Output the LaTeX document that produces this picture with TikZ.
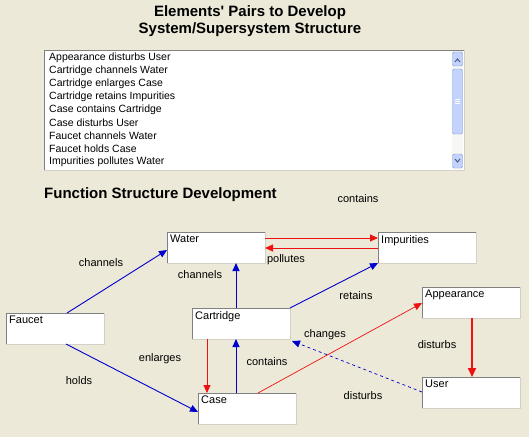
\documentclass[tikz,border=0pt]{standalone}
\usepackage{fontspec}
\setmainfont{Liberation Sans}
\usetikzlibrary{arrows.meta}
\definecolor{bg}{HTML}{ECE9D8}
\definecolor{edgegray}{HTML}{808080}
\definecolor{lightedge}{HTML}{D4D0C8}
\definecolor{arrblue}{HTML}{0000CC}
\definecolor{arrred}{HTML}{EE1111}
\definecolor{sbfill}{HTML}{C3D3FD}
\definecolor{sbedge}{HTML}{7C9FD3}
\definecolor{sbtrack}{HTML}{F7F7F4}
\begin{document}
\begin{tikzpicture}[x=1pt,y=-1pt,
  elem/.style={fill=white,draw=none,inner sep=0pt,outer sep=0pt,minimum width=98pt,minimum height=31pt},
  elemtext/.style={anchor=north west,inner sep=0pt,font=\fontsize{11}{13}\selectfont},
  lbl/.style={inner sep=0pt,font=\fontsize{11}{13}\selectfont},
  listtext/.style={anchor=west,inner sep=0pt,font=\fontsize{10.5}{13}\selectfont},
  tip/.style={-{Triangle[length=8pt,width=7pt]}},
  blueline/.style={draw=arrblue,line width=0.9pt,tip},
  redline/.style={draw=arrred,line width=0.9pt,tip},
  title/.style={inner sep=0pt,font=\bfseries\fontsize{15}{17}\selectfont}
]
\useasboundingbox (0,0) rectangle (529,437);
\fill[bg] (0,0) rectangle (529,437);

% titles
\node[title] (t1) at (250,13) {Elements\textquotesingle\ Pairs to Develop};
\node[title] (t2) at (250,30) {System/Supersystem Structure};

% list box
\fill[white] (44,50) rectangle (464,170);
\draw[edgegray,line width=1pt] (44,170) -- (44,50) -- (464,50);
\draw[lightedge,line width=1pt] (464,50) -- (464,170) -- (44,170);
\fill[sbtrack] (452,51) rectangle (463,169);
\fill[sbfill,draw=sbedge,rounded corners=1.5pt] (452.5,52) rectangle (462.5,66);
\fill[sbfill,draw=sbedge,rounded corners=1.5pt] (452.5,69) rectangle (462.5,134);
\fill[sbfill,draw=sbedge,rounded corners=1.5pt] (452.5,154) rectangle (462.5,168);
\draw[sbedge!60!black,line width=1pt] (455,62) -- (457.5,59) -- (460,62);
\draw[sbedge!60!black,line width=1pt] (455,159) -- (457.5,162) -- (460,159);
\foreach \yy in {99,101,103}{\draw[white,line width=0.5pt] (455,\yy) -- (460,\yy);}
\node[listtext] (l1) at (49,58) {Appearance disturbs User};
\node[listtext] (l2) at (49,71) {Cartridge channels Water};
\node[listtext] (l3) at (49,84) {Cartridge enlarges Case};
\node[listtext] (l4) at (49,97) {Cartridge retains Impurities};
\node[listtext] (l5) at (49,110) {Case contains Cartridge};
\node[listtext] (l6) at (49,123) {Case disturbs User};
\node[listtext] (l7) at (49,136) {Faucet channels Water};
\node[listtext] (l8) at (49,149) {Faucet holds Case};
\node[listtext] (l9) at (49,162) {Impurities pollutes Water};

\node[title,anchor=west] (t3) at (44,195) {Function Structure Development};

% element boxes
\newcommand{\elembox}[4]{%
  \node[elem,anchor=north west] (#1) at (#2,#3) {};
  \draw[edgegray,line width=1pt] (#1.south west) -- (#1.north west) -- (#1.north east);
  \draw[lightedge,line width=1pt] (#1.north east) -- (#1.south east) -- (#1.south west);
  \node[elemtext] (#1t) at ([shift={(3,3)}]#1.north west) {#4};}
\elembox{water}{167}{232}{Water}
\elembox{impur}{378}{232}{Impurities}
\elembox{faucet}{6}{313}{Faucet}
\elembox{cart}{192}{308}{Cartridge}
\elembox{case}{198}{393}{Case}
\elembox{appear}{422}{287}{Appearance}
\elembox{user}{422}{377}{User}

% connectors
\draw[blueline] ([xshift=61pt]faucet.north west) -- ([yshift=-18pt]water.north west);
\draw[blueline] ([xshift=60pt]faucet.south west) -- ([yshift=-19pt]case.north west);
\draw[blueline] ([xshift=44pt]cart.north west) -- ([xshift=69pt]water.south west);
\draw[blueline] ([xshift=38pt]case.north west) -- ([xshift=44pt]cart.south west);
\draw[redline] ([xshift=15pt]cart.south west) -- ([xshift=9pt]case.north west);
\draw[redline] ([yshift=-6pt]water.north east) -- ([yshift=-6pt]impur.north west);
\draw[redline] ([yshift=-16pt]impur.north west) -- ([yshift=-16pt]water.north east);
\draw[blueline] (cart.north east) -- (impur.south west);
\draw[draw=arrred,line width=0.7pt,tip] ([xshift=60pt]case.north west) -- ([yshift=-16pt]appear.north west);
\draw[draw=arrblue,line width=0.7pt,dashed,tip] ([yshift=-15pt]user.north west) -- ([xshift=2pt,yshift=-2pt]cart.south east);
\draw[draw=arrred,line width=2pt,-{Triangle[length=9pt,width=8pt]}] ([xshift=50pt]appear.south west) -- ([xshift=50pt]user.north west);

% labels
\node[lbl] (c1) at (358,199) {contains};
\node[lbl] (c2) at (101,263) {channels};
\node[lbl] (c3) at (200,275) {channels};
\node[lbl] (c4) at (286,260) {pollutes};
\node[lbl] (c5) at (356,296) {retains};
\node[lbl] (c6) at (325,335) {changes};
\node[lbl] (c7) at (160,359) {enlarges};
\node[lbl] (c8) at (267,362) {contains};
\node[lbl] (c9) at (437,345) {disturbs};
\node[lbl] (c10) at (79,381) {holds};
\node[lbl] (c11) at (363,396) {disturbs};
\end{tikzpicture}
\end{document}
